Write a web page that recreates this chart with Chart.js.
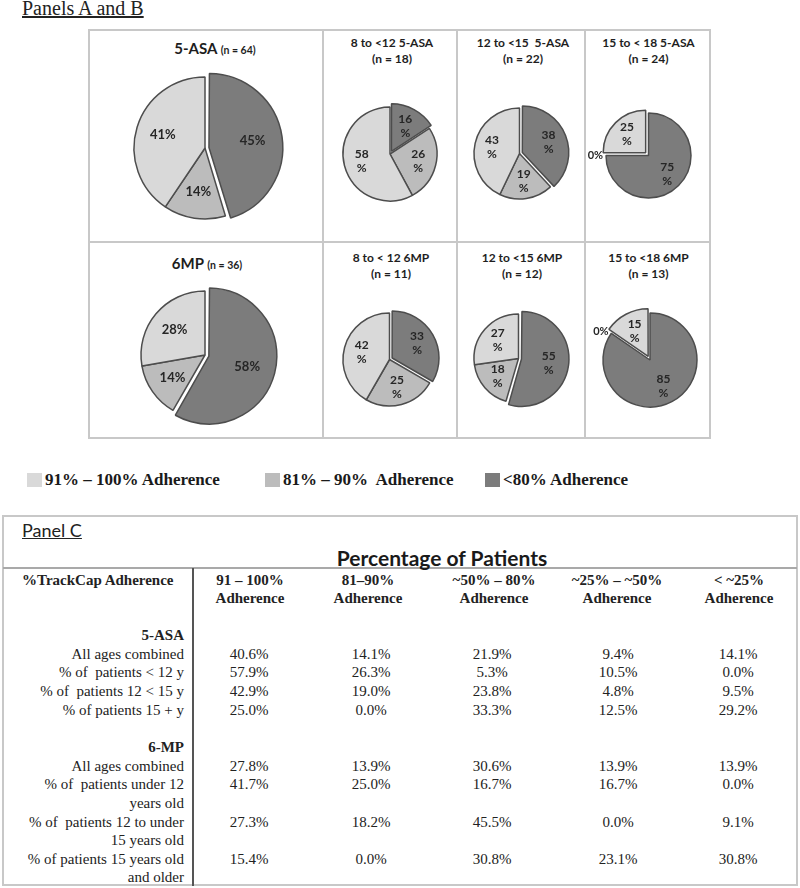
<!DOCTYPE html>
<html>
<head>
<meta charset="utf-8">
<title>TrackCap adherence</title>
<script src="https://cdn.jsdelivr.net/npm/chart.js@4.4.1/dist/chart.umd.min.js"></script>
<style>
  body { margin: 0; background: #fff; }
  #page { position: relative; width: 800px; height: 888px; overflow: hidden; color: #222; }
  .abs { position: absolute; white-space: pre; }
  .box { position: absolute; box-sizing: border-box; border: 2px solid #c8c8c8; }
  .ttl { position: absolute; text-align: center; font-family: Lato, sans-serif; font-weight: 700; color: #1e1e1e; white-space: pre; }
  .serif { font-family: "Liberation Serif", "Times New Roman", serif; }
  canvas { position: absolute; }
</style>
</head>
<body>
<div id="page"></div>
<script>
// panels A and B: share of patients in each adherence band (%)
const categories = ['91% – 100% Adherence', '81% – 90%  Adherence', '<80% Adherence'];
const bandColors = ['#d9d9d9', '#bcbcbc', '#7c7c7c'];

const pieTitles = ['5-ASA', '8 to <12 5-ASA', '12 to <15  5-ASA', '15 to < 18 5-ASA',
                   '6MP', '8 to < 12 6MP', '12 to <15 6MP', '15 to <18 6MP'];
const pieCounts = [64, 18, 22, 24, 36, 11, 12, 13];

const asaAll     = [40.6, 14.1, 45.4];
const asaUnder12 = [57.9, 26.3, 15.8];
const asa12to15  = [42.9, 19.0, 38.1];
const asa15to18  = [25.0, 0.0, 75.0];
const mpAll      = [27.8, 13.9, 58.4];
const mpUnder12  = [41.7, 25.0, 33.4];
const mp12to15   = [27.3, 18.2, 54.6];
const mp15to18   = [15.4, 0.0, 84.7];
const pieValues = [asaAll, asaUnder12, asa12to15, asa15to18, mpAll, mpUnder12, mp12to15, mp15to18];

// panel C
const tableHeaders = ['91 – 100%\nAdherence', '81–90%\nAdherence', '~50% – 80%\nAdherence',
                      '~25% – ~50%\nAdherence', '< ~25%\nAdherence'];
const asaLabels = ['All ages combined', '% of  patients < 12 y', '% of  patients 12 < 15 y', '% of patients 15 + y'];
const asaRows = [
  [40.6, 14.1, 21.9, 9.4, 14.1],
  [57.9, 26.3, 5.3, 10.5, 0.0],
  [42.9, 19.0, 23.8, 4.8, 9.5],
  [25.0, 0.0, 33.3, 12.5, 29.2]
];
const mpLabels = ['All ages combined', '% of  patients under 12\nyears old',
                  '% of  patients 12 to under\n15 years old', '% of patients 15 years old\nand older'];
const mpRows = [
  [27.8, 13.9, 30.6, 13.9, 13.9],
  [41.7, 25.0, 16.7, 16.7, 0.0],
  [27.3, 18.2, 45.5, 0.0, 9.1],
  [15.4, 0.0, 30.8, 23.1, 30.8]
];

// ---- layout
const page = document.getElementById('page');

function addDiv(cls, css, text) {
  const d = document.createElement('div');
  d.className = cls;
  d.style.cssText = css;
  if (text !== undefined) d.textContent = text;
  page.appendChild(d);
  return d;
}

addDiv('abs serif', 'left:22px;top:-2px;font-size:20px;line-height:20px;text-decoration:underline;', 'Panels A and B');

const boxes = [
  [88, 29, 236, 214], [322, 29, 136, 214], [456, 29, 130, 214], [584, 29, 127, 214],
  [88, 241, 236, 198], [322, 241, 136, 198], [456, 241, 130, 198], [584, 241, 127, 198]
];
const titleDx = [9, 2, 2, 1, 1, 1, 1, 1];

boxes.forEach((b, i) => {
  addDiv('box', `left:${b[0]}px;top:${b[1]}px;width:${b[2]}px;height:${b[3]}px;`);
  const top = i < 4 ? 35 : 250;
  if (i % 4 === 0) {
    const t = addDiv('ttl', `left:${b[0] + titleDx[i]}px;top:${top + 3}px;width:${b[2]}px;line-height:20px;font-size:15px;`);
    t.innerHTML = pieTitles[i] + ' <span style="font-size:10.5px">(n = ' + pieCounts[i] + ')</span>';
  } else {
    addDiv('ttl', `left:${b[0] + titleDx[i]}px;top:${top}px;width:${b[2]}px;line-height:16px;font-size:12px;`,
      pieTitles[i] + '\n(n = ' + pieCounts[i] + ')');
  }
});

const pieGeom = [
  {cx: 205, cy: 148, r: 71, explode: 2, shift: 4},
  {cx: 390, cy: 154, r: 47, explode: 2, shift: 3},
  {cx: 519, cy: 153, r: 45.5, explode: 2, shift: 3},
  {cx: 648.5, cy: 155, r: 42.5, explode: 0, shift: 4},
  {cx: 205, cy: 355, r: 64, explode: 2, shift: 4},
  {cx: 389, cy: 359, r: 46.5, explode: 2, shift: 3},
  {cx: 518.5, cy: 358.5, r: 44.5, explode: 2, shift: 3},
  {cx: 649.5, cy: 360, r: 47, explode: 0, shift: 4}
];

// percentage labels inside the slices, "0%" just outside
const sliceLabels = {
  id: 'sliceLabels',
  afterDatasetsDraw(chart, args, opts) {
    const ctx = chart.ctx;
    const ds = chart.data.datasets[0];
    chart.getDatasetMeta(0).data.forEach((arc, i) => {
      const v = ds.data[i];
      const {x, y, startAngle, endAngle, outerRadius} =
        arc.getProps(['x', 'y', 'startAngle', 'endAngle', 'outerRadius'], true);
      const mid = (startAngle + endAngle) / 2;
      const shift = (ds.offset[i] || 0) / 4;
      const pct = Math.round(v);
      ctx.save();
      ctx.fillStyle = '#262626';
      ctx.textBaseline = 'middle';
      ctx.font = 'bold ' + (opts.big ? 13 : 12) + 'px Lato, sans-serif';
      if (v === 0) {
        const rr = outerRadius * 1.07;
        ctx.textAlign = Math.cos(mid) < 0 ? 'right' : 'left';
        ctx.font = 'bold 11px Lato, sans-serif';
        ctx.fillText(pct + '%', x + Math.cos(mid) * rr, y + Math.sin(mid) * rr);
      } else {
        const rr = outerRadius * 0.62 + shift;
        const lx = x + Math.cos(mid) * rr;
        const ly = y + Math.sin(mid) * rr;
        ctx.textAlign = 'center';
        if (opts.big) {
          ctx.fillText(pct + '%', lx, ly);
        } else {
          ctx.fillText(String(pct), lx, ly - 7);
          ctx.fillText('%', lx, ly + 7);
        }
      }
      ctx.restore();
    });
  }
};

pieValues.forEach((vals, i) => {
  const g = pieGeom[i];
  const size = Math.round(2 * (g.r + 34));
  const canvas = document.createElement('canvas');
  canvas.width = size;
  canvas.height = size;
  canvas.style.cssText = `left:${g.cx - size / 2}px;top:${g.cy - size / 2}px;width:${size}px;height:${size}px;`;
  page.appendChild(canvas);

  const order = [2, 1, 0]; // clockwise from 12 o'clock: <80%, 81-90%, 91-100%
  const bw = 1.5;
  const off = g.shift * 4;
  new Chart(canvas, {
    type: 'pie',
    data: {
      labels: order.map(k => categories[k]),
      datasets: [{
        data: order.map(k => vals[k]),
        backgroundColor: order.map(k => bandColors[k]),
        borderColor: '#4d4d4d',
        borderWidth: bw,
        hoverBorderWidth: bw,
        offset: order.map(k => (k === g.explode ? off : 0)),
        hoverOffset: 0
      }]
    },
    options: {
      responsive: false,
      animation: false,
      events: [],
      layout: { padding: (size - 2 * g.r - bw - off) / 2 },
      plugins: {
        legend: { display: false },
        tooltip: { enabled: false },
        sliceLabels: { big: i % 4 === 0 }
      }
    },
    plugins: [sliceLabels]
  });
});

// shared legend
const legendX = [27, 265, 485];
categories.forEach((c, i) => {
  addDiv('abs', `left:${legendX[i]}px;top:473px;width:15px;height:14px;background:${bandColors[i]};`);
  addDiv('abs serif', `left:${legendX[i] + 18}px;top:470px;font-size:17px;line-height:20px;font-weight:bold;color:#1a1a1a;`, c);
});

// ---- panel C table
addDiv('abs', 'left:2px;top:515px;width:796px;height:371px;box-sizing:border-box;border:2px solid #c8c8c8;');
addDiv('abs', 'left:3px;top:567px;width:794px;height:0;border-top:2px solid #a9a9a9;');
addDiv('abs', 'left:192px;top:568px;width:0;height:318px;border-left:2px solid #555;');
addDiv('abs', 'left:22px;top:519px;font-family:Lato,sans-serif;font-size:18px;line-height:22px;text-decoration:underline;color:#222;', 'Panel C');
addDiv('abs', 'left:242px;top:545px;width:400px;text-align:center;font-family:Lato,sans-serif;font-weight:700;font-size:21px;line-height:26px;color:#1a1a1a;', 'Percentage of Patients');

const headX = [250, 368, 494, 617, 739];
const colX = [249, 371, 492, 618, 738];
addDiv('abs serif', 'left:22px;top:571px;font-size:15px;line-height:18px;font-weight:bold;', '%TrackCap Adherence');
tableHeaders.forEach((h, k) => {
  addDiv('abs serif', `left:${headX[k] - 60}px;top:571px;width:120px;text-align:center;font-size:15px;line-height:18px;font-weight:bold;`, h);
});

const step = 18.65;
let line = 0;
function rowLine(text, bold, values) {
  const top = 635 - 9 + line * step;
  addDiv('abs serif', `left:0;top:${top}px;width:184px;text-align:right;font-size:15px;line-height:18px;${bold ? 'font-weight:bold;' : ''}`, text);
  if (values) {
    values.forEach((v, k) => {
      addDiv('abs serif', `left:${colX[k] - 50}px;top:${top}px;width:100px;text-align:center;font-size:15px;line-height:18px;`, v.toFixed(1) + '%');
    });
  }
  line++;
}
function group(name, labels, rows) {
  rowLine(name, true);
  labels.forEach((lab, i) => {
    lab.split('\n').forEach((part, j) => rowLine(part, false, j === 0 ? rows[i] : null));
  });
}
group('5-ASA', asaLabels, asaRows);
line++;
group('6-MP', mpLabels, mpRows);
</script>
</body>
</html>
